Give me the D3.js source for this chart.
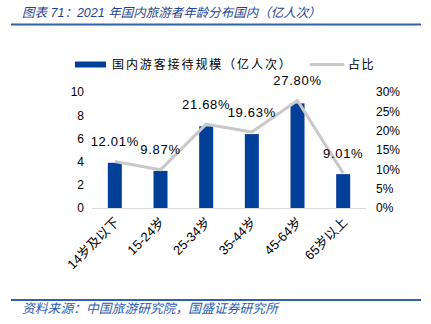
<!DOCTYPE html>
<html>
<head>
<meta charset="utf-8">
<script src="https://cdn.jsdelivr.net/npm/d3@7"></script>
<style>
  html, body { margin: 0; padding: 0; background: #ffffff; }
  svg { display: block; }
  text { font-family: "Liberation Sans", "Noto Sans CJK SC", sans-serif; }
</style>
</head>
<body>
<svg id="chart" width="431" height="324"></svg>
<script>
// 2021 domestic tourist age distribution
const categories = ["14岁及以下", "15-24岁", "25-34岁", "35-44岁", "45-64岁", "65岁以上"];
const visits = [3.90, 3.20, 7.04, 6.37, 9.02, 2.92];           // 亿人次
const shares = [12.01, 9.87, 21.68, 19.63, 27.80, 9.01];       // %
const leftTicks = [0, 2, 4, 6, 8, 10];
const rightTicks = [0, 5, 10, 15, 20, 25, 30];

const titleText = "图表 71：2021 年国内旅游者年龄分布国内（亿人次）";
const sourceText = "资料来源：中国旅游研究院，国盛证券研究所";
const barName = "国内游客接待规模（亿人次）";
const lineName = "占比";

const svg = d3.select("#chart");
const blue = "#023f98";
const gray = "#c9c9c9";
const headBlue = "#2e62ab";

// header and footer rules
svg.append("text")
  .attr("x", 22).attr("y", 16.5)
  .attr("font-size", 12.5).attr("font-style", "italic")
  .attr("fill", "#1f4291")
  .text(titleText);
svg.append("rect").attr("x", 11).attr("y", 23.5).attr("width", 410).attr("height", 2).attr("fill", headBlue);
svg.append("rect").attr("x", 11).attr("y", 299).attr("width", 410).attr("height", 2).attr("fill", headBlue);
svg.append("text")
  .attr("x", 22).attr("y", 313)
  .attr("font-size", 12.8).attr("font-style", "italic")
  .attr("fill", "#2a5bb0")
  .text(sourceText);

// scales
const x = d3.scaleBand().domain(categories).range([92, 366]);
const yL = d3.scaleLinear().domain([0, 10]).range([208, 92]);
const yR = d3.scaleLinear().domain([0, 30]).range([208, 92]);

// left axis
const axL = svg.append("g").attr("transform", "translate(84,0)")
  .call(d3.axisLeft(yL).tickValues(leftTicks).tickSize(0).tickPadding(0).tickFormat(d3.format("d")));
axL.select(".domain").remove();
axL.selectAll("text").attr("font-size", 12).attr("fill", "#000").attr("font-family", "Liberation Sans, sans-serif");

// right axis
const axR = svg.append("g").attr("transform", "translate(376,0)")
  .call(d3.axisRight(yR).tickValues(rightTicks).tickSize(0).tickPadding(0).tickFormat(d => d + "%"));
axR.select(".domain").remove();
axR.selectAll("text").attr("font-size", 12).attr("fill", "#000").attr("font-family", "Liberation Sans, sans-serif");

// bars
const bw = 14;
svg.append("g").selectAll("rect").data(categories).join("rect")
  .attr("x", (d) => x(d) + x.bandwidth() / 2 - bw / 2)
  .attr("y", (d, i) => yL(visits[i]))
  .attr("width", bw)
  .attr("height", (d, i) => yL(0) - yL(visits[i]))
  .attr("fill", blue);

// baseline
svg.append("line")
  .attr("x1", 92).attr("x2", 366)
  .attr("y1", yL(0) + 0.5).attr("y2", yL(0) + 0.5)
  .attr("stroke", "#d9d9d9").attr("stroke-width", 1);

// category axis, rotated labels
const axB = svg.append("g").attr("transform", `translate(0,${yL(0)})`)
  .call(d3.axisBottom(x).tickSize(0).tickPadding(0));
axB.select(".domain").remove();
axB.selectAll("text")
  .attr("font-size", 13).attr("fill", "#000")
  .attr("text-anchor", "end")
  .attr("dy", null).attr("y", 0)
  .attr("transform", "translate(5,15) rotate(-45)");

// share line
const line = d3.line()
  .x((d, i) => x(categories[i]) + x.bandwidth() / 2)
  .y((d) => yR(d));
svg.append("path").datum(shares)
  .attr("d", line)
  .attr("fill", "none")
  .attr("stroke", gray).attr("stroke-width", 3)
  .attr("stroke-linejoin", "round");

// share labels
svg.append("g").selectAll("text").data(shares).join("text")
  .attr("x", (d, i) => x(categories[i]) + x.bandwidth() / 2)
  .attr("y", (d) => yR(d) - 20)
  .attr("dy", "0.35em")
  .attr("text-anchor", "middle")
  .attr("font-size", 13)
  .attr("letter-spacing", 0.7)
  .attr("fill", "#000")
  .text((d) => d.toFixed(2) + "%");

// legend
const lg = svg.append("g");
lg.append("rect").attr("x", 75).attr("y", 61.5).attr("width", 31).attr("height", 6).attr("fill", blue);
lg.append("text").attr("x", 112).attr("y", 65).attr("dy", "0.35em")
  .attr("font-size", 12).attr("letter-spacing", 1.9).attr("fill", "#000").text(barName);
lg.append("line").attr("x1", 311).attr("x2", 343).attr("y1", 64.5).attr("y2", 64.5)
  .attr("stroke", gray).attr("stroke-width", 3).attr("stroke-linecap", "round");
lg.append("text").attr("x", 348).attr("y", 65).attr("dy", "0.35em")
  .attr("font-size", 12).attr("letter-spacing", 1.5).attr("fill", "#000").text(lineName);
</script>
</body>
</html>
